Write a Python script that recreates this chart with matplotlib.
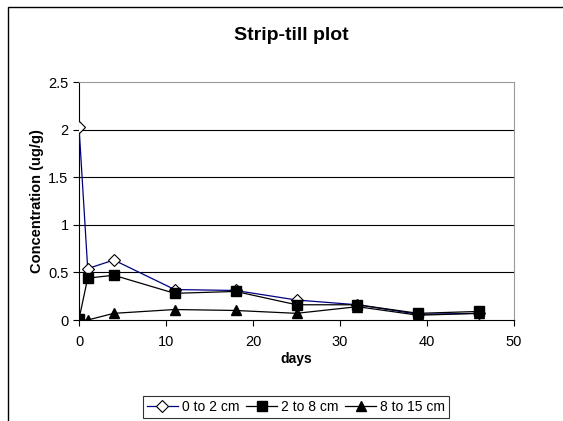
import numpy as np
import matplotlib
matplotlib.use('Agg')
import matplotlib.pyplot as plt
from matplotlib.patches import Rectangle

plt.rcParams['font.family'] = ['Liberation Sans', 'DejaVu Sans']

days = [0, 1, 4, 11, 18, 25, 32, 39, 46]
conc_0_2 = [2.03, 0.54, 0.63, 0.32, 0.31, 0.21, 0.16, 0.06, 0.07]
conc_2_8 = [0.01, 0.44, 0.47, 0.28, 0.30, 0.16, 0.16, 0.07, 0.09]
conc_8_15 = [0.0, 0.0, 0.07, 0.11, 0.10, 0.07, 0.14, 0.05, 0.07]
labels = ['0 to 2 cm', '2 to 8 cm', '8 to 15 cm']

fig = plt.figure(figsize=(5.63, 4.21), dpi=100)
ax = fig.add_axes([79/563, 1-320/421, (514-79)/563, (320-82)/421])

# outer chart border
fig.patches.append(Rectangle((8/563, -0.05), 1.2, 1-7/421+0.05, transform=fig.transFigure,
                             fill=False, edgecolor='black', lw=1.0))

ax.plot(days, conc_0_2, color='#000080', lw=0.9, marker='D', ms=6, mfc='white', mec='black', mew=0.8, label=labels[0], zorder=3)
ax.plot(days, conc_2_8, color='black', lw=0.9, marker='s', ms=7, mfc='black', mec='black', label=labels[1], zorder=5)
ax.plot(days, conc_8_15, color='black', lw=0.9, marker='^', ms=7, mfc='black', mec='black', label=labels[2], zorder=4)

ax.set_xlim(0, 50)
ax.set_ylim(0, 2.5)
ax.set_xticks(np.arange(0, 51, 10))
ax.set_yticks([0, 0.5, 1, 1.5, 2, 2.5])
ax.set_yticklabels(['0', '0.5', '1', '1.5', '2', '2.5'])
for y in [0.5, 1, 1.5, 2]:
    ax.axhline(y, color='black', lw=0.8, zorder=1)

ax.spines['top'].set_color('#999999')
ax.spines['right'].set_color('#999999')
ax.spines['left'].set_color('black')
ax.spines['bottom'].set_color('black')
ax.tick_params(axis='both', direction='out', length=4, labelsize=10.5, colors='black')
ax.tick_params(axis='x', pad=7)

ax.set_xlabel('days', fontsize=10, fontweight='bold', labelpad=2)
ax.set_ylabel('Concentration (ug/g)', fontsize=10.5, fontweight='bold', labelpad=3)
fig.text(291/563, 1-35/421, 'Strip-till plot', ha='center', va='center', fontsize=14, fontweight='bold')

leg = fig.legend(loc='center', bbox_to_anchor=(0.526, 1-407/421),
                 ncol=3, frameon=True, fancybox=False, edgecolor='black', fontsize=10,
                 handlelength=2.2, handletextpad=0.3, columnspacing=0.5, borderpad=0.3)
leg.get_frame().set_linewidth(0.8)

fig.savefig('out.png', dpi=100)
